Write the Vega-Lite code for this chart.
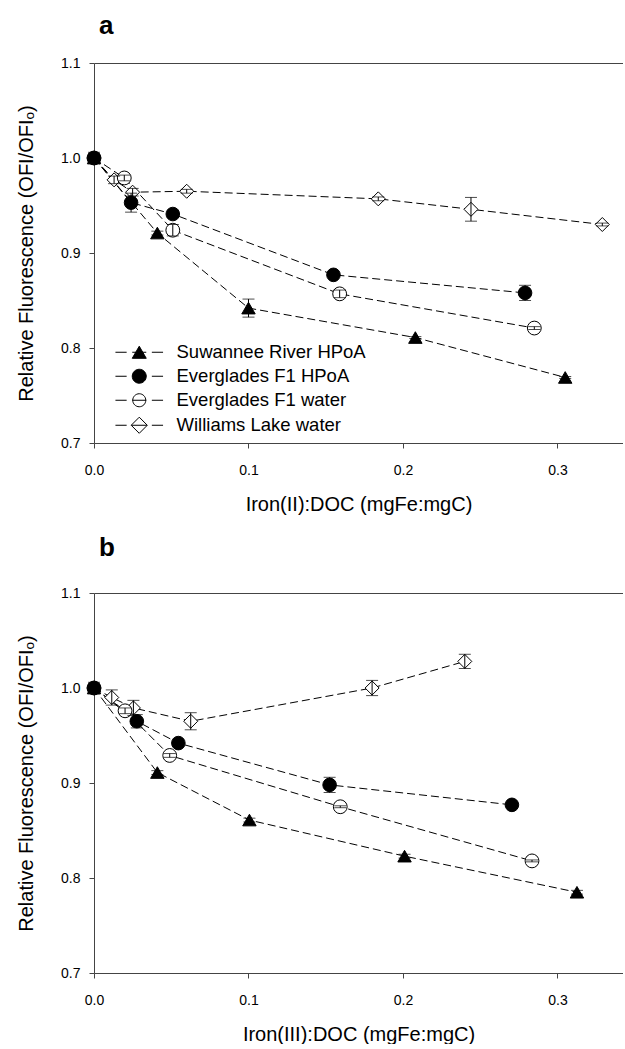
{
  "$schema": "https://vega.github.io/schema/vega-lite/v6.json",
  "padding": {"left": 16, "top": 13, "right": 0, "bottom": 0},
  "background": "white",
  "config": {
    "font": "Liberation Sans",
    "view": {"stroke": null},
    "axis": {
      "labelFont": "Liberation Sans", "titleFont": "Liberation Sans",
      "labelFontSize": 14, "titleFontSize": 20, "titleFontWeight": "normal",
      "labelColor": "black", "titleColor": "black",
      "domainColor": "#444", "tickColor": "#444", "tickSize": 5,
      "grid": false, "labelFlush": false
    },
    "legend": {"labelFont": "Liberation Sans"}
  },
  "datasets": {
    "a": [
      {"series": "Williams Lake water", "x": 0, "y": 1.0, "err": 0.003},
      {"series": "Williams Lake water", "x": 0.013, "y": 0.977, "err": 0.004},
      {"series": "Williams Lake water", "x": 0.025, "y": 0.964, "err": 0.004},
      {"series": "Williams Lake water", "x": 0.06, "y": 0.965, "err": 0.002},
      {"series": "Williams Lake water", "x": 0.184, "y": 0.957, "err": 0.002},
      {"series": "Williams Lake water", "x": 0.244, "y": 0.946, "err": 0.0125},
      {"series": "Williams Lake water", "x": 0.329, "y": 0.93, "err": 0.0015},
      {"series": "Everglades F1 water", "x": 0, "y": 1.0, "err": 0.004},
      {"series": "Everglades F1 water", "x": 0.0196, "y": 0.979, "err": 0.003},
      {"series": "Everglades F1 water", "x": 0.051, "y": 0.924, "err": 0.006},
      {"series": "Everglades F1 water", "x": 0.159, "y": 0.857, "err": 0.004},
      {"series": "Everglades F1 water", "x": 0.285, "y": 0.821, "err": 0.0015},
      {"series": "Suwannee River HPoA", "x": 0, "y": 1.0, "err": 0.004},
      {"series": "Suwannee River HPoA", "x": 0.041, "y": 0.921, "err": 0.002},
      {"series": "Suwannee River HPoA", "x": 0.1, "y": 0.842, "err": 0.0095},
      {"series": "Suwannee River HPoA", "x": 0.208, "y": 0.811, "err": 0.001},
      {"series": "Suwannee River HPoA", "x": 0.305, "y": 0.769, "err": 0.001},
      {"series": "Everglades F1 HPoA", "x": 0, "y": 1.0, "err": 0.006},
      {"series": "Everglades F1 HPoA", "x": 0.024, "y": 0.953, "err": 0.01},
      {"series": "Everglades F1 HPoA", "x": 0.051, "y": 0.941, "err": 0.003},
      {"series": "Everglades F1 HPoA", "x": 0.155, "y": 0.877, "err": 0.003},
      {"series": "Everglades F1 HPoA", "x": 0.279, "y": 0.858, "err": 0.008}
    ],
    "b": [
      {"series": "Williams Lake water", "x": 0, "y": 1.0, "err": 0.004},
      {"series": "Williams Lake water", "x": 0.0115, "y": 0.99, "err": 0.008},
      {"series": "Williams Lake water", "x": 0.0255, "y": 0.979, "err": 0.008},
      {"series": "Williams Lake water", "x": 0.0626, "y": 0.965, "err": 0.009},
      {"series": "Williams Lake water", "x": 0.18, "y": 1.0, "err": 0.008},
      {"series": "Williams Lake water", "x": 0.24, "y": 1.028, "err": 0.0075},
      {"series": "Everglades F1 water", "x": 0, "y": 1.0, "err": 0.003},
      {"series": "Everglades F1 water", "x": 0.0201, "y": 0.976, "err": 0.003},
      {"series": "Everglades F1 water", "x": 0.049, "y": 0.929, "err": 0.002},
      {"series": "Everglades F1 water", "x": 0.1594, "y": 0.875, "err": 0.001},
      {"series": "Everglades F1 water", "x": 0.2835, "y": 0.818, "err": 0.001},
      {"series": "Suwannee River HPoA", "x": 0, "y": 1.0, "err": 0.003},
      {"series": "Suwannee River HPoA", "x": 0.041, "y": 0.911, "err": 0.002},
      {"series": "Suwannee River HPoA", "x": 0.1006, "y": 0.861, "err": 0.002},
      {"series": "Suwannee River HPoA", "x": 0.201, "y": 0.823, "err": 0.002},
      {"series": "Suwannee River HPoA", "x": 0.3126, "y": 0.785, "err": 0.002},
      {"series": "Everglades F1 HPoA", "x": 0, "y": 1.0, "err": 0.006},
      {"series": "Everglades F1 HPoA", "x": 0.0277, "y": 0.965, "err": 0.007},
      {"series": "Everglades F1 HPoA", "x": 0.0546, "y": 0.942, "err": 0.003},
      {"series": "Everglades F1 HPoA", "x": 0.1525, "y": 0.898, "err": 0.008},
      {"series": "Everglades F1 HPoA", "x": 0.2705, "y": 0.877, "err": 0.002}
    ]
  },
  "spacing": 21,
  "vconcat": [
    {
      "width": 529, "height": 380,
      "title": {"text": "a", "anchor": "start", "frame": "group", "fontSize": 26, "fontWeight": "bold", "font": "Liberation Sans", "color": "black", "dx": 5, "offset": -4, "baseline": "alphabetic"},
      "data": {"name": "a"},
      "encoding": {
        "x": {"field": "x", "type": "quantitative", "scale": {"domain": [0, 0.3424], "nice": false, "zero": false}, "axis": null},
        "y": {"field": "y", "type": "quantitative", "scale": {"domain": [0.7, 1.1], "nice": false, "zero": false},
              "axis": {"values": [0.7, 0.8, 0.9, 1.0, 1.1], "format": ".1f", "title": "Relative Fluorescence (OFI/OFIₒ)", "labelPadding": 9, "titlePadding": 24}}
      },
      "layer": [
        {
          "mark": {"type": "line", "strokeDash": [8, 4], "strokeWidth": 1, "color": "black"},
          "encoding": {
            "x": {"field": "x", "type": "quantitative", "scale": {"domain": [0, 0.3424], "nice": false, "zero": false},
                  "axis": {"orient": "bottom", "values": [0, 0.1, 0.2, 0.3], "format": ".1f", "title": "Iron(II):DOC (mgFe:mgC)", "labelPadding": 15, "titlePadding": 17}},
            "detail": {"field": "series"},
            "order": {"field": "x"}
          }
        },
        {
          "mark": {"type": "point", "filled": true, "stroke": "black", "strokeWidth": 1, "opacity": 1},
          "encoding": {
            "shape": {"field": "series", "type": "nominal", "scale": {"domain": ["Suwannee River HPoA", "Everglades F1 HPoA", "Everglades F1 water", "Williams Lake water"], "range": ["triangle-up", "circle", "circle", "diamond"]}, "legend": null},
            "fill": {"field": "series", "type": "nominal", "scale": {"domain": ["Suwannee River HPoA", "Everglades F1 HPoA", "Everglades F1 water", "Williams Lake water"], "range": ["black", "black", "white", "white"]}, "legend": null},
            "size": {"field": "series", "type": "ordinal", "scale": {"domain": ["Suwannee River HPoA", "Everglades F1 HPoA", "Everglades F1 water", "Williams Lake water"], "range": [180, 196, 169, 256]}, "legend": null}
          }
        },
        {
          "transform": [{"filter": "datum.err > 0"}],
          "mark": {"type": "errorbar", "color": "black", "ticks": {"size": 12, "color": "black"}, "thickness": 1},
          "encoding": {
            "yError": {"field": "err"}
          }
        },
        {
          "transform": [{"filter": "false"}],
          "mark": {"type": "point", "filled": true, "strokeWidth": 1, "opacity": 1, "size": 196},
          "encoding": {
            "x": {"field": "x", "type": "quantitative", "scale": {"domain": [0, 0.3424], "nice": false, "zero": false},
                  "axis": {"orient": "top", "labels": false, "ticks": false, "title": null}},
            "shape": {"field": "series", "type": "nominal", "scale": {"domain": ["Suwannee River HPoA", "Everglades F1 HPoA", "Everglades F1 water", "Williams Lake water"], "range": [
              "M-3.4,0H-1.8M-1,0H1M1.8,0H3.4M0,-0.866L1,0.866L-1,0.866Z",
              "M-3.4,0H-1.8M-1,0H1M1.8,0H3.4M1,0A1,1,0,1,1,-1,0A1,1,0,1,1,1,0Z",
              "M-3.4,0H-1.8M-1,0H1M1.8,0H3.4M0.93,0A0.93,0.93,0,1,1,-0.93,0A0.93,0.93,0,1,1,0.93,0Z",
              "M-3.4,0H-1.8M-1.1,0H1.1M1.8,0H3.4M-1.15,0L0,-1.15L1.15,0L0,1.15Z"]},
              "legend": {"orient": "none", "legendX": 36, "legendY": 280, "title": null, "labelFontSize": 18.5, "labelColor": "black", "labelOffset": 28, "labelLimit": 0, "symbolSize": 196, "rowPadding": 5, "symbolStrokeWidth": 1, "padding": 0}},
            "fill": {"field": "series", "type": "nominal", "scale": {"domain": ["Suwannee River HPoA", "Everglades F1 HPoA", "Everglades F1 water", "Williams Lake water"], "range": ["black", "black", "white", "white"]},
              "legend": {"orient": "none", "legendX": 36, "legendY": 280, "title": null, "labelFontSize": 18.5, "labelColor": "black", "labelOffset": 28, "labelLimit": 0, "symbolSize": 196, "rowPadding": 5, "symbolStrokeWidth": 1, "padding": 0}},
            "stroke": {"field": "series", "type": "nominal", "scale": {"domain": ["Suwannee River HPoA", "Everglades F1 HPoA", "Everglades F1 water", "Williams Lake water"], "range": ["black", "black", "black", "black"]},
              "legend": {"orient": "none", "legendX": 36, "legendY": 280, "title": null, "labelFontSize": 18.5, "labelColor": "black", "labelOffset": 28, "labelLimit": 0, "symbolSize": 196, "rowPadding": 5, "symbolStrokeWidth": 1, "padding": 0}}
          }
        }
      ],
      "resolve": {"axis": {"x": "independent"}, "scale": {"shape": "independent", "fill": "independent", "stroke": "independent"}, "legend": {"shape": "independent", "fill": "independent", "stroke": "independent"}}
    },
    {
      "width": 529, "height": 380,
      "title": {"text": "b", "anchor": "start", "frame": "group", "fontSize": 26, "fontWeight": "bold", "font": "Liberation Sans", "color": "black", "dx": 5, "offset": 4, "baseline": "alphabetic"},
      "data": {"name": "b"},
      "encoding": {
        "x": {"field": "x", "type": "quantitative", "scale": {"domain": [0, 0.3424], "nice": false, "zero": false}, "axis": null},
        "y": {"field": "y", "type": "quantitative", "scale": {"domain": [0.7, 1.1], "nice": false, "zero": false},
              "axis": {"values": [0.7, 0.8, 0.9, 1.0, 1.1], "format": ".1f", "title": "Relative Fluorescence (OFI/OFIₒ)", "labelPadding": 9, "titlePadding": 24}}
      },
      "layer": [
        {
          "mark": {"type": "line", "strokeDash": [8, 4], "strokeWidth": 1, "color": "black"},
          "encoding": {
            "x": {"field": "x", "type": "quantitative", "scale": {"domain": [0, 0.3424], "nice": false, "zero": false},
                  "axis": {"orient": "bottom", "values": [0, 0.1, 0.2, 0.3], "format": ".1f", "title": "Iron(III):DOC (mgFe:mgC)", "labelPadding": 15, "titlePadding": 17}},
            "detail": {"field": "series"},
            "order": {"field": "x"}
          }
        },
        {
          "mark": {"type": "point", "filled": true, "stroke": "black", "strokeWidth": 1, "opacity": 1},
          "encoding": {
            "shape": {"field": "series", "type": "nominal", "scale": {"domain": ["Suwannee River HPoA", "Everglades F1 HPoA", "Everglades F1 water", "Williams Lake water"], "range": ["triangle-up", "circle", "circle", "diamond"]}, "legend": null},
            "fill": {"field": "series", "type": "nominal", "scale": {"domain": ["Suwannee River HPoA", "Everglades F1 HPoA", "Everglades F1 water", "Williams Lake water"], "range": ["black", "black", "white", "white"]}, "legend": null},
            "size": {"field": "series", "type": "ordinal", "scale": {"domain": ["Suwannee River HPoA", "Everglades F1 HPoA", "Everglades F1 water", "Williams Lake water"], "range": [180, 196, 169, 256]}, "legend": null}
          }
        },
        {
          "transform": [{"filter": "datum.err > 0"}],
          "mark": {"type": "errorbar", "color": "black", "ticks": {"size": 12, "color": "black"}, "thickness": 1},
          "encoding": {
            "yError": {"field": "err"}
          }
        },
        {
          "transform": [{"filter": "false"}],
          "mark": {"type": "point", "opacity": 0},
          "encoding": {
            "x": {"field": "x", "type": "quantitative", "scale": {"domain": [0, 0.3424], "nice": false, "zero": false},
                  "axis": {"orient": "top", "labels": false, "ticks": false, "title": null}}
          }
        }
      ],
      "resolve": {"axis": {"x": "independent"}}
    }
  ]
}
